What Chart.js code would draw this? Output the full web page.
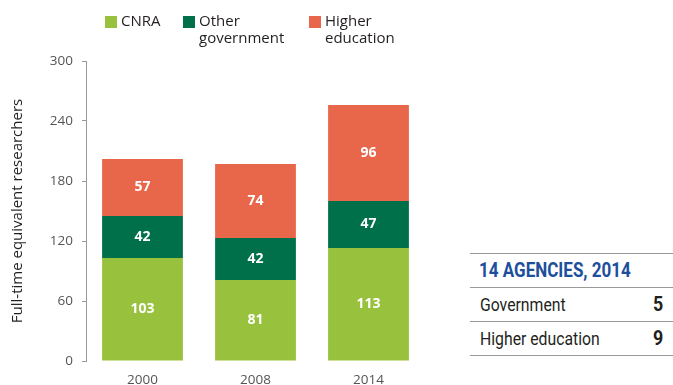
<!DOCTYPE html>
<html>
<head>
<meta charset="utf-8">
<script src="https://cdn.jsdelivr.net/npm/chart.js@4/dist/chart.umd.min.js"></script>
<style>
    body { margin: 0; background: #fff; font-family: "Open Sans", sans-serif; }
    #wrap { position: relative; width: 673px; height: 385px; overflow: hidden; }
    #box { position: absolute; left: 0; top: 0; width: 440px; height: 385px; }
    .leg { position: absolute; top: 12px; font-size: 15px; line-height: 17px; color: #231f20; }
    .leg i { position: absolute; left: 0; top: 4px; width: 12px; height: 12px; }
    .leg span { display: block; padding-left: 16px; }
    #table { position: absolute; left: 470px; top: 253px; width: 203px; font-family: Roboto, sans-serif; }
    #table .row { border-top: 1.5px solid #999; height: 33px; line-height: 33px; position: relative; font-size: 19px; color: #231f20; padding-left: 10px; white-space: nowrap; }
    #table .row span { display: inline-block; transform: scaleX(0.83); transform-origin: left center; }
    #table .row b { position: absolute; right: 9px; top: 0; font-size: 21px; transform: scaleX(0.85); }
    #table .head { color: #1d4f9c; font-weight: bold; font-size: 20.5px; padding-left: 9px; }
    #table .end { border-top: 1.5px solid #999; }
</style>
</head>
<body>
<div id="wrap">
    <div id="box"><canvas id="chart_researchers"></canvas></div>
    <div class="leg" style="left:105px"><i style="background:#98c13d"></i><span>CNRA</span></div>
    <div class="leg" style="left:183px"><i style="background:#00704a"></i><span>Other<br>government</span></div>
    <div class="leg" style="left:309px"><i style="background:#e8664a"></i><span>Higher<br>education</span></div>
    <div id="table">
        <div class="row head"><span>14 AGENCIES, 2014</span></div>
        <div class="row"><span>Government</span><b>5</b></div>
        <div class="row"><span>Higher education</span><b>9</b></div>
        <div class="end"></div>
    </div>
</div>
<script>
'use strict';
const years = ['2000', '2008', '2014'];
const cnra = [103, 81, 113];
const otherGov = [42, 42, 47];
const higherEdu = [57, 74, 96];
const yTicks = [0, 60, 120, 180, 240, 300];

const segmentLabels = {
    id: 'segmentLabels',
    afterDatasetsDraw(chart) {
        let ctx = chart.ctx;
        ctx.save();
        ctx.fillStyle = '#fff';
        ctx.font = 'bold 14px "Open Sans", sans-serif';
        ctx.textAlign = 'center';
        ctx.textBaseline = 'middle';
        chart.data.datasets.forEach((ds, i) => {
            chart.getDatasetMeta(i).data.forEach((bar, j) => {
                let mid = (bar.y + bar.base) / 2;
                ctx.fillText(ds.data[j], bar.x, mid);
            });
        });
        ctx.restore();
    }
};

let ctx = document.getElementById('chart_researchers').getContext('2d');
window.ChartResearchers = new Chart(ctx, {
    type: 'bar',
    data: {
        labels: years,
        datasets: [
            {label: 'CNRA', data: cnra, backgroundColor: '#98c13d'},
            {label: 'Other government', data: otherGov, backgroundColor: '#00704a'},
            {label: 'Higher education', data: higherEdu, backgroundColor: '#e8664a'}
        ]
    },
    options: {
        responsive: true,
        maintainAspectRatio: false,
        animation: false,
        layout: {padding: {top: 61, right: 15, left: 9, bottom: 0}},
        datasets: {bar: {categoryPercentage: 1, barPercentage: 0.715}},
        plugins: {legend: {display: false}, tooltip: {enabled: false}},
        scales: {
            x: {
                stacked: true,
                grid: {display: false},
                border: {display: false},
                ticks: {color: '#555', font: {size: 13.5, family: '"Open Sans", sans-serif'}, padding: 3},
                afterFit: scale => { scale.height = 24; }
            },
            y: {
                stacked: true,
                min: 0,
                max: 300,
                afterBuildTicks: scale => { scale.ticks = yTicks.map(v => ({value: v})); },
                grid: {drawOnChartArea: false, drawTicks: true, tickLength: 4, color: '#999'},
                border: {display: true, color: '#999', width: 1},
                ticks: {color: '#555', font: {size: 13.5, family: '"Open Sans", sans-serif'}, padding: 9},
                title: {display: true, text: 'Full-time equivalent researchers', color: '#231f20',
                    font: {size: 15, family: '"Open Sans", sans-serif'}, padding: 0},
                afterFit: scale => { scale.width = 77; }
            }
        }
    },
    plugins: [segmentLabels]
});
</script>
</body>
</html>
